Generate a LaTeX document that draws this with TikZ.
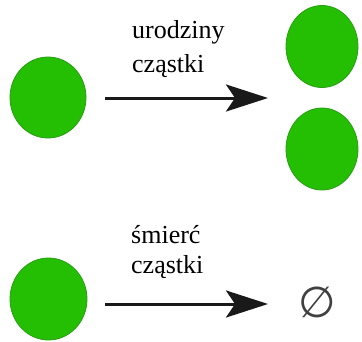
\documentclass[tikz,border=0pt]{standalone}
\usepackage{fontspec}
\setmainfont{Liberation Serif}
\newfontfamily\symfont{DejaVu Sans}
\usetikzlibrary{arrows.meta}
\definecolor{ballfill}{RGB}{36,190,2}
\definecolor{balledge}{RGB}{40,160,20}
\tikzset{
  ball/.style={draw=balledge, line width=0.8pt, fill=ballfill},
  proc/.style={line width=3pt, draw=black!90,
    -{Stealth[length=42pt, width=27pt, inset=9pt]}},
  lbl/.style={inner sep=0pt, align=left, font=\fontsize{26}{34}\selectfont}
}
\begin{document}
\begin{tikzpicture}[x=1pt, y=-1pt]
  \useasboundingbox (0,0) rectangle (362,341);
  % birth: one particle becomes two
  \draw[ball] (48,97.5) ellipse [x radius=38, y radius=40.5];
  \draw[ball] (322,46.5) ellipse [x radius=36, y radius=41];
  \draw[ball] (322,149) ellipse [x radius=36, y radius=41];
  \coordinate (b0) at (105,98);
  \coordinate (b1) at (268,98);
  \draw[proc] (b0) -- (b1);
  \node[lbl, anchor=north west] (birth) at (132,20) {urodziny\\cząstki};
  % death: one particle becomes nothing
  \draw[ball] (48.5,299) ellipse [x radius=38.5, y radius=41];
  \coordinate (d0) at (105,304);
  \coordinate (d1) at (268,304);
  \draw[proc] (d0) -- (d1);
  \node[lbl, anchor=north west, font=\fontsize{26}{30}\selectfont] (death) at (131,225) {śmierć\\cząstki};
  \node[inner sep=0pt, text=black!75, font=\symfont\fontsize{43}{43}\selectfont] (empty) at (317,302) {∅};
\end{tikzpicture}
\end{document}
